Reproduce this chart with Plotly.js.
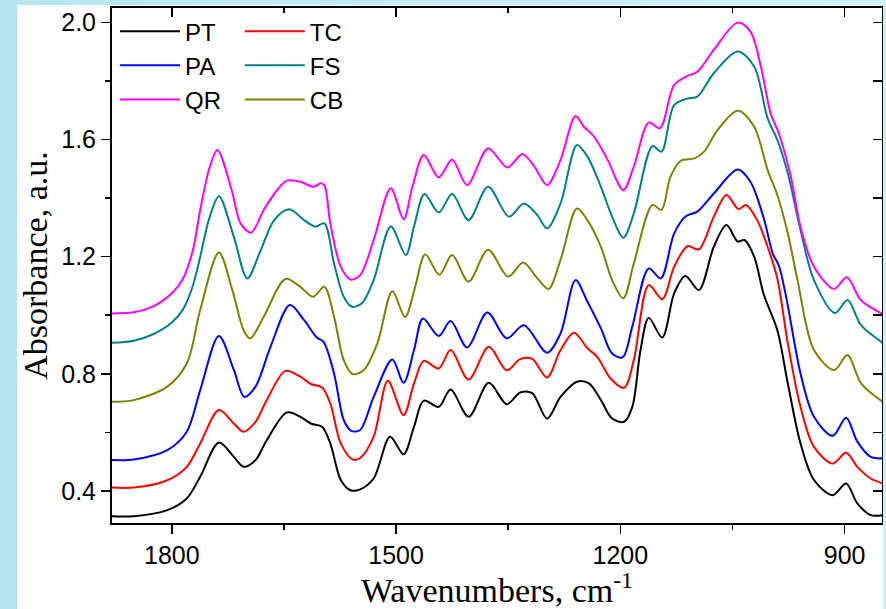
<!DOCTYPE html>
<html>
<head>
<meta charset="utf-8">
<script src="https://cdn.plot.ly/plotly-3.0.1.min.js"></script>
<style>
  html, body { margin: 0; padding: 0; width: 886px; height: 609px; overflow: hidden;
    background: linear-gradient(90deg, #b3e6ef 0%, #c4eff5 50%, #cdf3f7 100%); }
  #chart { position: absolute; left: 17px; top: 5px; width: 866px; height: 604px; }
</style>
</head>
<body>
<div id="chart"></div>
<script>
// ---- data (wavenumber cm-1, absorbance a.u.) ----
const ptWn = [1880,1851,1806,1780,1762,1737,1717,1704,1688,1673,1646,1628,1614,1599,1588,1574,1561,1548,1530,1508,1490,1476,1463,1443,1427,1403,1376,1352,1334,1318,1298,1280,1258,1242,1226,1211,1195,1184,1173,1162,1144,1128,1113,1095,1075,1058,1043,1034,1021,1008,990,976,959,941,916,898,883,865,849];
const ptAbs = [0.313,0.313,0.334,0.374,0.448,0.565,0.516,0.482,0.505,0.573,0.668,0.653,0.630,0.619,0.562,0.437,0.402,0.405,0.442,0.585,0.525,0.619,0.708,0.687,0.746,0.653,0.769,0.696,0.736,0.734,0.647,0.721,0.773,0.767,0.710,0.647,0.636,0.687,0.881,0.991,0.924,1.075,1.134,1.086,1.234,1.308,1.252,1.257,1.200,1.070,0.949,0.767,0.562,0.437,0.385,0.425,0.357,0.317,0.317];

const tcWn = [1880,1851,1806,1780,1762,1737,1717,1704,1688,1673,1648,1628,1614,1599,1588,1574,1558,1548,1530,1511,1490,1476,1463,1443,1427,1403,1376,1352,1334,1318,1298,1280,1262,1244,1231,1213,1195,1182,1162,1144,1128,1110,1095,1075,1058,1042,1032,1017,1003,990,976,959,941,916,898,883,865,849];
const tcAbs = [0.411,0.411,0.436,0.482,0.562,0.676,0.630,0.602,0.636,0.710,0.810,0.790,0.765,0.753,0.699,0.562,0.507,0.512,0.585,0.776,0.659,0.767,0.844,0.818,0.881,0.780,0.892,0.812,0.850,0.851,0.787,0.881,0.940,0.887,0.858,0.784,0.752,0.847,1.103,1.055,1.166,1.236,1.225,1.337,1.411,1.363,1.377,1.325,1.234,1.125,0.904,0.687,0.550,0.493,0.530,0.482,0.442,0.425];

const paWn = [1880,1851,1806,1780,1762,1737,1717,1703,1688,1668,1642,1623,1606,1597,1583,1570,1560,1548,1530,1505,1490,1476,1464,1443,1427,1405,1378,1352,1329,1298,1280,1260,1244,1226,1211,1197,1184,1162,1146,1128,1112,1097,1075,1043,1026,1008,996,988,978,959,941,916,898,883,865,849];
const paAbs = [0.505,0.507,0.539,0.602,0.744,0.929,0.813,0.721,0.756,0.892,1.035,0.983,0.924,0.909,0.801,0.642,0.605,0.608,0.721,0.849,0.769,0.881,0.989,0.929,0.980,0.890,1.009,0.921,0.966,0.872,0.938,1.120,1.046,0.955,0.869,0.856,0.961,1.160,1.126,1.280,1.339,1.354,1.416,1.498,1.456,1.330,1.210,1.170,1.060,0.801,0.653,0.588,0.650,0.568,0.516,0.511];

const fsWn = [1880,1851,1825,1800,1785,1772,1762,1750,1737,1717,1699,1681,1663,1643,1623,1608,1596,1583,1570,1559,1545,1530,1507,1487,1476,1462,1443,1425,1403,1377,1349,1329,1311,1298,1280,1258,1244,1226,1211,1196,1182,1157,1145,1128,1110,1097,1075,1043,1021,1003,990,976,959,941,913,896,878,849];
const fsAbs = [0.906,0.913,0.935,0.975,1.020,1.100,1.200,1.330,1.407,1.268,1.126,1.223,1.325,1.362,1.325,1.303,1.314,1.177,1.063,1.029,1.043,1.120,1.303,1.206,1.303,1.414,1.351,1.414,1.325,1.439,1.337,1.382,1.342,1.297,1.382,1.582,1.542,1.439,1.337,1.265,1.348,1.578,1.559,1.718,1.741,1.747,1.827,1.901,1.850,1.673,1.599,1.485,1.291,1.120,1.008,1.052,0.966,0.906];

const qrWn = [1880,1851,1825,1800,1785,1772,1762,1750,1739,1720,1708,1694,1677,1659,1646,1628,1610,1601,1596,1588,1574,1561,1548,1530,1507,1490,1478,1463,1443,1425,1405,1377,1351,1331,1315,1298,1280,1260,1249,1235,1217,1196,1182,1162,1147,1128,1110,1097,1075,1043,1026,1012,999,988,972,959,941,914,897,878,849];
const qrAbs = [1.006,1.010,1.030,1.075,1.125,1.220,1.360,1.500,1.565,1.428,1.314,1.282,1.360,1.428,1.460,1.456,1.439,1.451,1.445,1.314,1.166,1.122,1.137,1.257,1.434,1.328,1.440,1.548,1.471,1.531,1.445,1.570,1.505,1.551,1.508,1.445,1.531,1.681,1.645,1.610,1.531,1.428,1.508,1.658,1.639,1.787,1.818,1.832,1.907,2.000,1.969,1.850,1.690,1.622,1.474,1.303,1.166,1.090,1.130,1.051,1.004];

const cbWn = [1880,1851,1806,1780,1762,1737,1719,1704,1695,1677,1648,1628,1611,1596,1583,1570,1558,1543,1525,1505,1488,1475,1461,1442,1425,1403,1377,1350,1330,1311,1296,1280,1258,1244,1226,1211,1196,1182,1157,1145,1133,1119,1101,1088,1070,1043,1021,1003,990,976,963,941,914,896,878,849];
const cbAbs = [0.704,0.710,0.756,0.835,1.018,1.214,1.086,0.949,0.921,0.995,1.124,1.097,1.063,1.097,0.995,0.847,0.799,0.813,0.904,1.082,0.994,1.092,1.208,1.138,1.206,1.115,1.224,1.132,1.180,1.126,1.090,1.189,1.365,1.325,1.234,1.120,1.058,1.177,1.377,1.360,1.473,1.528,1.536,1.559,1.633,1.699,1.644,1.496,1.411,1.280,1.120,0.881,0.813,0.864,0.767,0.704];

const seriesNames = ['PT','TC','PA','FS','QR','CB'];
const seriesColors = ['#000000','#ff0000','#0000ff','#008080','#ff00ff','#808000'];
const seriesWn = [ptWn, tcWn, paWn, fsWn, qrWn, cbWn];
const seriesAbs = [ptAbs, tcAbs, paAbs, fsAbs, qrAbs, cbAbs];
const seriesLegend = ['legend','legend2','legend','legend2','legend','legend2'];

const xRange = [1880, 850];
const yRange = [0.29, 2.05];

const traces = seriesNames.map((n, i) => ({
  type: 'scatter', mode: 'lines', name: n,
  x: seriesWn[i], y: seriesAbs[i],
  line: {color: seriesColors[i], width: 2, shape: 'spline', smoothing: 0.9},
  legend: seriesLegend[i], hoverinfo: 'x+y+name'
}));
// empty helper trace so the mirrored (top/right) axes with inward ticks are drawn
traces.push({type: 'scatter', mode: 'lines', x: [], y: [], xaxis: 'x2', yaxis: 'y2',
  showlegend: false, hoverinfo: 'skip'});

const tickFont = {family: 'Liberation Sans, Arial, sans-serif', size: 25, color: '#000'};
const titleFont = {family: 'Liberation Serif, Times New Roman, serif', size: 34, color: '#000'};
const legFont = {family: 'Liberation Sans, Arial, sans-serif', size: 24, color: '#000'};

const layout = {
  width: 866, height: 604,
  margin: {l: 95, r: 1, t: 3, b: 86},
  paper_bgcolor: '#ffffff', plot_bgcolor: '#ffffff',
  showlegend: true,
  xaxis: {
    range: xRange, autorange: false, tick0: 900, dtick: 300,
    ticks: 'outside', ticklen: 9, tickwidth: 1.5, tickcolor: '#000',
    minor: {dtick: 150, ticks: 'outside', ticklen: 5, tickwidth: 1.5, tickcolor: '#000'},
    showline: true, linewidth: 2, linecolor: '#000', showgrid: false, zeroline: false,
    tickfont: tickFont, automargin: false,
    title: {text: 'Wavenumbers, cm<sup>-1</sup>', font: titleFont, standoff: 4}
  },
  yaxis: {
    range: yRange, autorange: false, tick0: 0.4, dtick: 0.4, tickformat: '.1f',
    ticks: 'outside', ticklen: 9, tickwidth: 1.5, tickcolor: '#000',
    minor: {dtick: 0.2, tick0: 0.4, ticks: 'outside', ticklen: 5, tickwidth: 1.5, tickcolor: '#000'},
    showline: true, linewidth: 2, linecolor: '#000', showgrid: false, zeroline: false,
    tickfont: tickFont, automargin: false,
    title: {text: 'Absorbance, a.u.', font: titleFont, standoff: 6}
  },
  xaxis2: {
    overlaying: 'x', side: 'top', anchor: 'y2', range: xRange, autorange: false,
    tick0: 900, dtick: 300, ticks: 'inside', ticklen: 9, tickwidth: 1.5, tickcolor: '#000',
    minor: {dtick: 150, ticks: 'inside', ticklen: 5, tickwidth: 1.5, tickcolor: '#000'},
    showticklabels: false, showline: true, linewidth: 2, linecolor: '#000',
    showgrid: false, zeroline: false
  },
  yaxis2: {
    overlaying: 'y', side: 'right', anchor: 'x2', range: yRange, autorange: false,
    tick0: 0.4, dtick: 0.4, ticks: 'inside', ticklen: 9, tickwidth: 1.5, tickcolor: '#000',
    minor: {dtick: 0.2, tick0: 0.4, ticks: 'inside', ticklen: 9, tickwidth: 1.5, tickcolor: '#000'},
    showticklabels: false, showline: true, linewidth: 2, linecolor: '#000',
    showgrid: false, zeroline: false
  },
  legend: {x: 0.004, y: 0.998, xanchor: 'left', yanchor: 'top', bgcolor: 'rgba(0,0,0,0)',
    font: legFont, itemwidth: 60, tracegroupgap: 0, traceorder: 'normal'},
  legend2: {x: 0.166, y: 0.998, xanchor: 'left', yanchor: 'top', bgcolor: 'rgba(0,0,0,0)',
    font: legFont, itemwidth: 60, tracegroupgap: 0, traceorder: 'normal'}
};

Plotly.newPlot('chart', traces, layout, {displayModeBar: false, staticPlot: true});
</script>
</body>
</html>
